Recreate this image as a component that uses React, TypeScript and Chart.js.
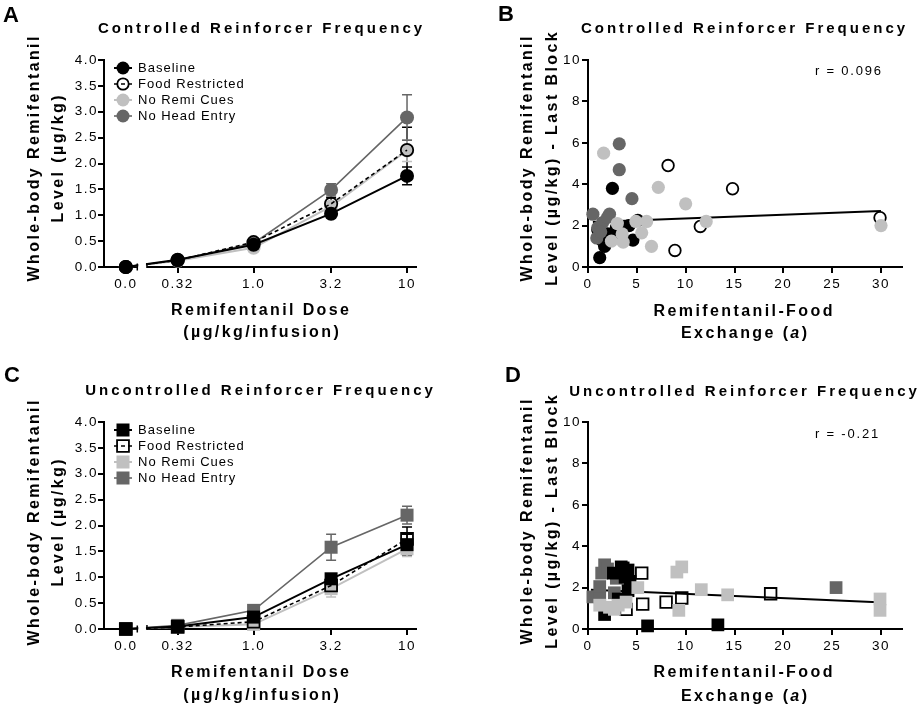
import React, { useEffect, useRef } from 'react';
import { Chart, registerables } from 'chart.js';

Chart.register(...registerables);

const FONT = '"Liberation Sans", Arial, Helvetica, sans-serif';

// ---------- Panels A & C: dose-response (mean ± SEM) ----------
const DOSES = [0, 0.32, 1.0, 3.2, 10];
const DOSE_LABELS = ['0.0', '0.32', '1.0', '3.2', '10'];
const LEVEL_TICKS = [0, 0.5, 1.0, 1.5, 2.0, 2.5, 3.0, 3.5, 4.0];
const GROUPS = ['Baseline', 'Food Restricted', 'No Remi Cues', 'No Head Entry'];

const A_BASELINE = [0, 0.14, 0.43, 1.03, 1.76];
const A_BASELINE_SEM = [0, 0.02, 0.03, 0.05, 0.17];
const A_FOOD = [0, 0.13, 0.48, 1.22, 2.26];
const A_FOOD_SEM = [0, 0.02, 0.04, 0.12, 0.44];
const A_NOCUE = [0, 0.12, 0.37, 1.17, 2.25];
const A_NOCUE_SEM = [0, 0.02, 0.03, 0.09, 0.21];
const A_NOHEAD = [0, 0.13, 0.46, 1.49, 2.89];
const A_NOHEAD_SEM = [0, 0.02, 0.04, 0.12, 0.44];

const C_BASELINE = [0, 0.05, 0.23, 0.97, 1.63];
const C_BASELINE_SEM = [0, 0.02, 0.05, 0.08, 0.2];
const C_FOOD = [0, 0.04, 0.14, 0.84, 1.74];
const C_FOOD_SEM = [0, 0.02, 0.04, 0.1, 0.23];
const C_NOCUE = [0, 0.04, 0.09, 0.78, 1.55];
const C_NOCUE_SEM = [0, 0.01, 0.03, 0.16, 0.15];
const C_NOHEAD = [0, 0.07, 0.36, 1.58, 2.2];
const C_NOHEAD_SEM = [0, 0.02, 0.04, 0.25, 0.17];

// ---------- Panels B & D: exchange (a) vs last-block level ----------
const EXCHANGE_TICKS = [0, 5, 10, 15, 20, 25, 30];
const LAST_BLOCK_TICKS = [0, 2, 4, 6, 8, 10];

const B_BASELINE = [[2.5, 3.8], [1.2, 0.45], [4.6, 1.3], [5.1, 2.25], [4.2, 2.0], [1.4, 1.3], [1.7, 1.0], [2.4, 1.5], [2.9, 1.9], [1.0, 1.8], [2.0, 1.6]];
const B_FOOD = [[8.2, 4.9], [14.8, 3.78], [11.5, 1.96], [8.9, 0.8], [29.9, 2.38]];
const B_NOCUE = [[1.6, 5.5], [7.2, 3.85], [10.0, 3.05], [12.1, 2.2], [30.0, 2.0], [6.5, 1.0], [5.5, 1.65], [6.0, 2.2], [4.9, 2.2], [3.5, 1.6], [3.6, 1.2], [2.4, 1.25], [3.0, 2.1]];
const B_NOHEAD = [[3.2, 5.95], [3.2, 4.7], [4.5, 3.3], [0.5, 2.55], [2.2, 2.55], [1.0, 1.9], [0.9, 1.4], [1.5, 2.15], [2.0, 2.4], [1.3, 1.7]];
const B_R_TEXT = 'r = 0.096';
const B_FIT_INTERCEPT = 2.17;
const B_FIT_SLOPE = 0.0177;
const B_FIT_RANGE = [0.5, 30];

const D_BASELINE = [[3.4, 3.0], [4.1, 2.85], [3.8, 2.5], [2.6, 2.7], [4.3, 2.3], [4.1, 1.85], [1.7, 0.7], [6.1, 0.15], [13.3, 0.2], [3.1, 1.45], [3.6, 2.95]];
const D_FOOD = [[5.5, 2.7], [5.6, 1.2], [8.0, 1.3], [9.6, 1.5], [18.7, 1.7], [3.9, 0.95]];
const D_NOCUE = [[9.6, 3.0], [9.1, 2.75], [11.6, 1.9], [14.3, 1.65], [9.3, 0.9], [29.9, 1.45], [29.9, 0.9], [5.1, 2.0], [1.2, 1.15], [2.2, 1.05], [3.1, 1.15], [3.9, 1.3], [2.7, 0.95]];
const D_NOHEAD = [[1.7, 3.1], [1.4, 2.7], [2.9, 2.45], [0.5, 1.55], [1.2, 1.55], [1.2, 2.05], [2.0, 2.9], [25.4, 2.0], [2.7, 1.75]];
const D_R_TEXT = 'r = -0.21';
const D_FIT_INTERCEPT = 1.9;
const D_FIT_SLOPE = -0.0205;
const D_FIT_RANGE = [0.3, 29.7];

// ---------- styling / layout ----------
const GROUP_STYLE = [
  { line: '#000000', fill: '#000000', dash: [], lineWidth: 2, open: false },
  { line: '#000000', fill: 'rgba(255,255,255,0)', dash: [4, 3], lineWidth: 1.6, open: true },
  { line: '#c0c0c0', fill: '#c0c0c0', dash: [], lineWidth: 2, open: false },
  { line: '#666666', fill: '#666666', dash: [], lineWidth: 1.6, open: false },
];

// the dose axis is logarithmic with a separate segment for dose 0
const ZERO_AXIS_POS = -0.833;
const DOSE_AXIS_MIN = -0.975;
const DOSE_AXIS_MAX = 1.065;
const BREAK_FROM = -0.758;
const BREAK_TO = -0.695;
const doseToAxis = (d) => (d > 0 ? Math.log10(d) : ZERO_AXIS_POS);

const TICK_SIZE = 13.5;
const TICK_SPACING = 1.5;
const X_AXIS_BOX = 30;
const TITLE_SIZE = 15;
const TITLE_SP = 3.0;
const AX_SIZE = 16;
const AX_SP = 2.4;

const T = (text, x, y, size, bold, sp, align, rot = false, italicIdx = -1) => ({ text, x, y, size, bold, sp, align, rot, italicIdx });

const PANELS = [
  {
    id: 'A', kind: 'dose', left: 0, top: 0, w: 460, h: 350,
    area: { l: 104, t: 60, r: 417, b: 267 },
    marker: 'circle', radius: 7,
    series: [A_BASELINE, A_FOOD, A_NOCUE, A_NOHEAD],
    sems: [A_BASELINE_SEM, A_FOOD_SEM, A_NOCUE_SEM, A_NOHEAD_SEM],
    order: [0, 1, 3, 2],
    legendTop: 68,
    texts: [
      T(['A'], 3, 22, 22, true, 0, 'left'),
      T(['Controlled Reinforcer Frequency'], 260, 33, TITLE_SIZE, true, TITLE_SP, 'center'),
      T(['Whole-body Remifentanil'], 39, 159, AX_SIZE, true, AX_SP, 'center', true),
      T(['Level (\u00b5g/kg)'], 63, 159, AX_SIZE, true, AX_SP, 'center', true),
      T(['Remifentanil Dose'], 260, 315, AX_SIZE, true, AX_SP, 'center'),
      T(['(\u00b5g/kg/infusion)'], 261, 337, AX_SIZE, true, AX_SP, 'center'),
    ],
  },
  {
    id: 'B', kind: 'scatter', left: 460, top: 0, w: 463, h: 350,
    area: { l: 588, t: 60, r: 902, b: 267 },
    marker: 'circle', radius: 6.6,
    groups: [B_BASELINE, B_FOOD, B_NOCUE, B_NOHEAD],
    order: [3, 1, 0, 2],
    fit: { a: B_FIT_INTERCEPT, b: B_FIT_SLOPE, range: B_FIT_RANGE },
    texts: [
      T(['B'], 498, 21, 22, true, 0, 'left'),
      T(['Controlled Reinforcer Frequency'], 743, 33, TITLE_SIZE, true, TITLE_SP, 'center'),
      T(['Whole-body Remifentanil'], 532, 159, AX_SIZE, true, AX_SP, 'center', true),
      T(['Level (\u00b5g/kg) - Last Block'], 557, 159, AX_SIZE, true, AX_SP, 'center', true),
      T([B_R_TEXT], 815, 75, 13, false, 1.8, 'left'),
      T(['Remifentanil-Food'], 743, 316, AX_SIZE, true, AX_SP, 'center'),
      T(['Exchange (', 'a', ')'], 744, 338, AX_SIZE, true, AX_SP, 'center', false, 1),
    ],
  },
  {
    id: 'C', kind: 'dose', left: 0, top: 350, w: 460, h: 359,
    area: { l: 104, t: 422, r: 417, b: 629 },
    marker: 'rect', radius: 9.2,
    series: [C_BASELINE, C_FOOD, C_NOCUE, C_NOHEAD],
    sems: [C_BASELINE_SEM, C_FOOD_SEM, C_NOCUE_SEM, C_NOHEAD_SEM],
    order: [0, 1, 3, 2],
    legendTop: 430,
    texts: [
      T(['C'], 4, 382, 22, true, 0, 'left'),
      T(['Uncontrolled Reinforcer Frequency'], 259, 395, TITLE_SIZE, true, TITLE_SP, 'center'),
      T(['Whole-body Remifentanil'], 39, 523, AX_SIZE, true, AX_SP, 'center', true),
      T(['Level (\u00b5g/kg)'], 63, 523, AX_SIZE, true, AX_SP, 'center', true),
      T(['Remifentanil Dose'], 260, 677, AX_SIZE, true, AX_SP, 'center'),
      T(['(\u00b5g/kg/infusion)'], 261, 700, AX_SIZE, true, AX_SP, 'center'),
    ],
  },
  {
    id: 'D', kind: 'scatter', left: 460, top: 350, w: 463, h: 359,
    area: { l: 588, t: 422, r: 902, b: 629 },
    marker: 'rect', radius: 9,
    groups: [D_BASELINE, D_FOOD, D_NOCUE, D_NOHEAD],
    order: [2, 1, 0, 3],
    fit: { a: D_FIT_INTERCEPT, b: D_FIT_SLOPE, range: D_FIT_RANGE },
    texts: [
      T(['D'], 505, 382, 22, true, 0, 'left'),
      T(['Uncontrolled Reinforcer Frequency'], 743, 396, TITLE_SIZE, true, TITLE_SP, 'center'),
      T(['Whole-body Remifentanil'], 532, 522, AX_SIZE, true, AX_SP, 'center', true),
      T(['Level (\u00b5g/kg) - Last Block'], 557, 522, AX_SIZE, true, AX_SP, 'center', true),
      T([D_R_TEXT], 815, 438, 13, false, 1.8, 'left'),
      T(['Remifentanil-Food'], 743, 677, AX_SIZE, true, AX_SP, 'center'),
      T(['Exchange (', 'a', ')'], 744, 701, AX_SIZE, true, AX_SP, 'center', false, 1),
    ],
  },
];

function fontStr(size, bold, italic) {
  return `${italic ? 'italic ' : ''}${bold ? 'bold ' : ''}${size}px ${FONT}`;
}

function drawTextItem(ctx, item, ox, oy) {
  ctx.save();
  ctx.fillStyle = '#000';
  ctx.textBaseline = 'alphabetic';
  ctx.textAlign = 'left';
  const widths = item.text.map((t, i) => {
    ctx.font = fontStr(item.size, item.bold, i === item.italicIdx);
    ctx.letterSpacing = '0px';
    return ctx.measureText(t).width + item.sp * [...t].length;
  });
  const total = widths.reduce((a, b) => a + b, 0) - item.sp;
  ctx.translate(item.x - ox, item.y - oy);
  if (item.rot) ctx.rotate(-Math.PI / 2);
  let cx = item.align === 'center' ? -total / 2 : 0;
  ctx.letterSpacing = item.sp + 'px';
  item.text.forEach((t, i) => {
    ctx.font = fontStr(item.size, item.bold, i === item.italicIdx);
    ctx.fillText(t, cx, 0);
    cx += widths[i];
  });
  ctx.restore();
}

function drawMarker(ctx, shape, x, y, r, st) {
  ctx.save();
  ctx.setLineDash([]);
  ctx.beginPath();
  if (shape === 'circle') {
    ctx.arc(x, y, st.open ? r - 0.8 : r, 0, Math.PI * 2);
  } else {
    const s = (st.open ? r - 0.8 : r) * Math.SQRT1_2;
    ctx.rect(x - s, y - s, 2 * s, 2 * s);
  }
  if (st.open) {
    ctx.strokeStyle = '#000';
    ctx.lineWidth = 1.8;
    ctx.stroke();
  } else {
    ctx.fillStyle = st.fill;
    ctx.fill();
  }
  ctx.restore();
}

function decorPlugin(spec) {
  return {
    id: 'decor' + spec.id,
    beforeDraw(chart) {
      chart.ctx.letterSpacing = TICK_SPACING + 'px';
    },
    beforeDatasetsDraw(chart) {
      if (spec.kind !== 'dose') return;
      const ctx = chart.ctx;
      const xs = chart.scales.x;
      const ys = chart.scales.y;
      const a = chart.chartArea;
      ctx.save();
      ctx.setLineDash([]);
      ctx.strokeStyle = '#000';
      ctx.lineWidth = 2;
      const g1 = xs.getPixelForValue(BREAK_FROM);
      const g2 = xs.getPixelForValue(BREAK_TO);
      ctx.beginPath();
      ctx.moveTo(a.left - 1, a.bottom);
      ctx.lineTo(g1, a.bottom);
      ctx.moveTo(g2, a.bottom);
      ctx.lineTo(a.right, a.bottom);
      ctx.stroke();
      spec.sems.forEach((sem, gi) => {
        const st = GROUP_STYLE[gi];
        ctx.strokeStyle = st.line;
        ctx.lineWidth = 1.5;
        sem.forEach((e, i) => {
          if (!(e > 0)) return;
          const m = spec.series[gi][i];
          const px = xs.getPixelForValue(doseToAxis(DOSES[i]));
          const yt = ys.getPixelForValue(m + e);
          const yb = ys.getPixelForValue(m - e);
          ctx.beginPath();
          ctx.moveTo(px, yt);
          ctx.lineTo(px, yb);
          ctx.moveTo(px - 5, yt);
          ctx.lineTo(px + 5, yt);
          ctx.moveTo(px - 5, yb);
          ctx.lineTo(px + 5, yb);
          ctx.stroke();
        });
      });
      ctx.restore();
    },
    afterDatasetsDraw(chart) {
      if (spec.kind !== 'dose') return;
      const ctx = chart.ctx;
      const xs = chart.scales.x;
      const a = chart.chartArea;
      const g1 = xs.getPixelForValue(BREAK_FROM);
      const g2 = xs.getPixelForValue(BREAK_TO);
      ctx.save();
      ctx.fillStyle = '#ffffff';
      ctx.fillRect(g1 + 1, a.bottom - 14, g2 - g1 - 2, 18);
      ctx.strokeStyle = '#000';
      ctx.lineWidth = 1.5;
      ctx.setLineDash([]);
      ctx.beginPath();
      ctx.moveTo(g1, a.bottom - 3.5);
      ctx.lineTo(g1, a.bottom + 3.5);
      ctx.moveTo(g2, a.bottom - 4);
      ctx.lineTo(g2, a.bottom + 1);
      ctx.stroke();
      ctx.restore();
    },
    afterDraw(chart) {
      const ctx = chart.ctx;
      spec.texts.forEach((it) => drawTextItem(ctx, it, spec.left, spec.top));
      if (spec.kind === 'dose') {
        const cx = 123 - spec.left;
        GROUPS.forEach((label, gi) => {
          const st = GROUP_STYLE[gi];
          const y = spec.legendTop + gi * 16 - spec.top;
          ctx.save();
          ctx.strokeStyle = st.line;
          ctx.lineWidth = st.lineWidth;
          ctx.setLineDash(st.dash);
          ctx.beginPath();
          ctx.moveTo(cx - 9, y);
          ctx.lineTo(cx + 9, y);
          ctx.stroke();
          ctx.restore();
          drawMarker(ctx, spec.marker, cx, y, spec.marker === 'circle' ? 6.5 : 9.2, st);
          ctx.save();
          ctx.fillStyle = '#000';
          ctx.font = fontStr(13, false, false);
          ctx.letterSpacing = '1px';
          ctx.textAlign = 'left';
          ctx.textBaseline = 'middle';
          ctx.fillText(label, 138 - spec.left, y + 0.5);
          ctx.restore();
        });
      }
    },
  };
}

function axisCommon() {
  return {
    ticks: {
      font: { family: FONT, size: TICK_SIZE },
      color: '#000',
      autoSkip: false,
      maxRotation: 0,
      minRotation: 0,
    },
    grid: { drawOnChartArea: false, drawTicks: true, tickLength: 6, color: '#000', lineWidth: 2 },
  };
}

function buildConfig(spec) {
  const rel = {
    l: spec.area.l - spec.left,
    t: spec.area.t - spec.top,
    r: spec.area.r - spec.left,
    b: spec.area.b - spec.top,
  };
  const padding = { left: 0, top: rel.t, right: spec.w - rel.r, bottom: spec.h - rel.b - X_AXIS_BOX };
  let datasets;
  let xScale;
  let yScale;
  const c = axisCommon();
  if (spec.kind === 'dose') {
    datasets = spec.series.map((vals, gi) => {
      const st = GROUP_STYLE[gi];
      return {
        label: GROUPS[gi],
        data: DOSES.map((d, i) => ({ x: doseToAxis(d), y: vals[i] })),
        showLine: true,
        tension: 0,
        borderColor: st.line,
        borderWidth: st.lineWidth,
        borderDash: st.dash,
        pointStyle: spec.marker,
        pointRadius: st.open ? spec.radius - 0.8 : spec.radius,
        pointBackgroundColor: st.fill,
        pointBorderColor: st.open ? '#000' : st.fill,
        pointBorderWidth: st.open ? 1.8 : 0,
        order: spec.order[gi],
        clip: false,
      };
    });
    xScale = {
      type: 'linear',
      min: DOSE_AXIS_MIN,
      max: DOSE_AXIS_MAX,
      afterBuildTicks: (s) => { s.ticks = DOSES.map((d) => ({ value: doseToAxis(d) })); },
      afterFit: (s) => { s.height = X_AXIS_BOX; },
      ticks: { ...c.ticks, padding: 3, callback: (v, i) => DOSE_LABELS[i] },
      grid: c.grid,
      border: { display: false },
    };
    yScale = {
      type: 'linear',
      min: 0,
      max: 4,
      afterBuildTicks: (s) => { s.ticks = LEVEL_TICKS.map((v) => ({ value: v })); },
      afterFit: (s) => { s.width = rel.l; },
      ticks: { ...c.ticks, padding: 0, callback: (v) => Number(v).toFixed(1) },
      grid: c.grid,
      border: { display: true, color: '#000', width: 2 },
    };
  } else {
    datasets = spec.groups.map((pts, gi) => {
      const st = GROUP_STYLE[gi];
      return {
        label: GROUPS[gi],
        data: pts.map(([x, y]) => ({ x, y })),
        showLine: false,
        pointStyle: spec.marker,
        pointRadius: st.open ? spec.radius - 0.8 : spec.radius,
        pointBackgroundColor: st.fill,
        pointBorderColor: st.open ? '#000' : st.fill,
        pointBorderWidth: st.open ? 1.8 : 0,
        order: spec.order[gi],
        clip: false,
      };
    });
    const [x0, x1] = spec.fit.range;
    datasets.push({
      label: 'Linear fit',
      data: [
        { x: x0, y: spec.fit.a + spec.fit.b * x0 },
        { x: x1, y: spec.fit.a + spec.fit.b * x1 },
      ],
      showLine: true,
      borderColor: '#000',
      borderWidth: 2,
      pointRadius: 0,
      order: 10,
      clip: false,
    });
    xScale = {
      type: 'linear',
      min: 0,
      max: 32.15,
      afterBuildTicks: (s) => { s.ticks = EXCHANGE_TICKS.map((v) => ({ value: v })); },
      afterFit: (s) => { s.height = X_AXIS_BOX; },
      ticks: { ...c.ticks, padding: 3, callback: (v) => String(v) },
      grid: c.grid,
      border: { display: true, color: '#000', width: 2 },
    };
    yScale = {
      type: 'linear',
      min: 0,
      max: 10,
      afterBuildTicks: (s) => { s.ticks = LAST_BLOCK_TICKS.map((v) => ({ value: v })); },
      afterFit: (s) => { s.width = rel.l; },
      ticks: { ...c.ticks, padding: 1, callback: (v) => String(v) },
      grid: c.grid,
      border: { display: true, color: '#000', width: 2 },
    };
  }
  return {
    type: 'scatter',
    data: { datasets },
    options: {
      animation: false,
      responsive: false,
      maintainAspectRatio: false,
      devicePixelRatio: 1,
      events: [],
      layout: { padding, autoPadding: false },
      plugins: { legend: { display: false }, tooltip: { enabled: false }, title: { display: false } },
      scales: { x: xScale, y: yScale },
    },
    plugins: [decorPlugin(spec)],
  };
}

function PanelCanvas({ spec }) {
  const ref = useRef(null);
  useEffect(() => {
    const chart = new Chart(ref.current, buildConfig(spec));
    return () => chart.destroy();
  }, [spec]);
  return (
    <canvas
      ref={ref}
      width={spec.w}
      height={spec.h}
      style={{ position: 'absolute', left: spec.left, top: spec.top, width: spec.w, height: spec.h }}
    />
  );
}

export default function App() {
  return (
    <div style={{ position: 'absolute', left: 0, top: 0, width: 923, height: 709, background: '#ffffff', overflow: 'hidden' }}>
      {PANELS.map((p) => (
        <PanelCanvas key={p.id} spec={p} />
      ))}
    </div>
  );
}
